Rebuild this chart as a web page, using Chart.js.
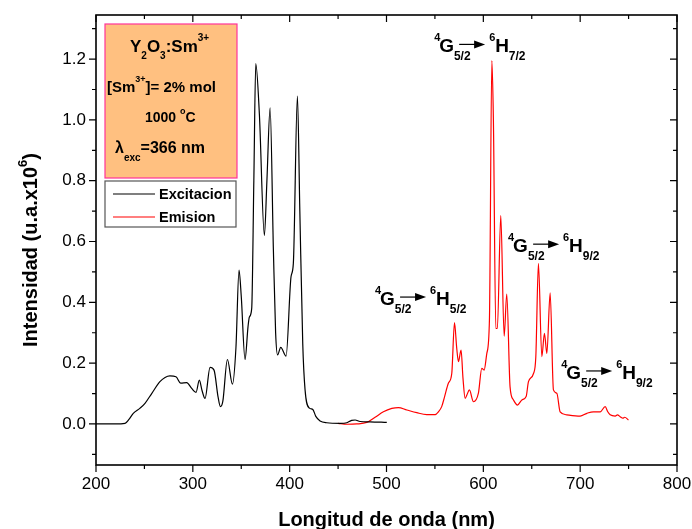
<!DOCTYPE html>
<html>
<head>
<meta charset="utf-8">
<script src="https://cdn.jsdelivr.net/npm/chart.js@4.4.1/dist/chart.umd.min.js"></script>
<style>
html, body { margin: 0; padding: 0; background: #fff; }
#wrap { width: 692px; height: 529px; }
</style>
</head>
<body>
<div id="wrap"><canvas id="espectro"></canvas></div>
<script>
const xTicks = [200, 300, 400, 500, 600, 700, 800];
const yTicks = [0.0, 0.2, 0.4, 0.6, 0.8, 1.0, 1.2];
const seriesNames = ["Excitacion", "Emision"];

// excitacion (lambda_em fija), nm / u.a.x10^6
const excWl = [200, 210, 220, 230, 234, 238.5, 245.5, 250.6, 257.5, 266, 271.3, 276.4, 282.6, 287.5, 293.7,
    298.8, 303.3, 306.7, 309.5, 312.6, 317.8, 321.9, 326, 328.5, 331, 335.7, 340.9, 344.5, 347.7, 350,
    353.9, 357, 358.4, 360.8, 363, 365, 368.7, 373.9, 376.5, 379.8, 383.2, 385.5, 387.5, 390.8, 396.3,
    401.4, 403.8, 408, 410.5, 413.5, 415.9, 420.4, 423.8, 427, 431.4, 438.3, 452, 459, 464, 467.6,
    472.7, 483, 500.3];
const excInt = [0, 0, 0, 0.002, 0.015, 0.035, 0.052, 0.068, 0.10, 0.139, 0.153, 0.158, 0.155, 0.134, 0.136,
    0.117, 0.104, 0.144, 0.11, 0.084, 0.186, 0.177, 0.09, 0.057, 0.075, 0.212, 0.131, 0.25, 0.506, 0.42,
    0.212, 0.32, 0.352, 0.38, 0.8, 1.185, 1.02, 0.62, 0.8, 1.04, 0.571, 0.3, 0.227, 0.252, 0.223,
    0.484, 0.528, 1.078, 0.7, 0.265, 0.112, 0.052, 0.048, 0.025, 0.01, 0.004, 0.002, 0.004, 0.012, 0.013,
    0.008, 0.007, 0.005];

// emision (lambda_exc = 366 nm)
const emiWl = [450, 459, 469.3, 479.6, 488.2, 496.8, 505.5, 512.3, 521, 531.3, 541.6, 550.2, 553.6, 557, 560,
    563.9, 567.4, 570.2, 572.5, 574.3, 577, 579, 581.2, 583, 585.6, 589.8, 594.9, 598.4, 600.8, 603.6,
    606.3, 608.8, 610.4, 612.9, 614.5, 618, 621.5, 624.2, 627.6, 631.1, 635.2, 639.8, 644.2, 646.6, 651.8,
    654.2, 656.9, 660.4, 663.1, 665.6, 669, 672.4, 675.9, 679.3, 686.2, 700, 706.9, 713.7, 720.7, 725.8,
    728.5, 731, 736.2, 738.5, 741.3, 744.1, 746, 749.9];
const emiInt = [0.002, -0.001, 0, 0.005, 0.022, 0.040, 0.051, 0.054, 0.046, 0.037, 0.031, 0.031, 0.040, 0.057, 0.09,
    0.134, 0.166, 0.333, 0.25, 0.205, 0.243, 0.15, 0.084, 0.095, 0.112, 0.073, 0.101, 0.183, 0.177, 0.232,
    0.342, 1.195, 0.998, 0.314, 0.314, 0.686, 0.289, 0.427, 0.122, 0.079, 0.062, 0.079, 0.09, 0.139, 0.166,
    0.221, 0.528, 0.221, 0.298, 0.232, 0.431, 0.112, 0.101, 0.040, 0.030, 0.026, 0.035, 0.040, 0.040, 0.057,
    0.04, 0.030, 0.026, 0.03, 0.024, 0.019, 0.022, 0.013];

const FONT = '"Liberation Sans", Arial, sans-serif';

const toPoints = (xs, ys) => xs.map((v, i) => ({ x: v, y: ys[i] }));

// escribe trozos seguidos (texto, tamano, desplazamiento vertical)
const runs = (ctx, parts, x, y) => {
    parts.forEach(([s, size, dy]) => {
        ctx.font = `bold ${size}px ${FONT}`;
        ctx.fillText(s, x, y + (dy || 0));
        x += ctx.measureText(s).width;
    });
    return x;
};

const arrow = (ctx, x1, x2, y) => {
    ctx.beginPath();
    ctx.moveTo(x1, y);
    ctx.lineTo(x2 - 9, y);
    ctx.lineWidth = 1.2;
    ctx.stroke();
    ctx.beginPath();
    ctx.moveTo(x2, y);
    ctx.lineTo(x2 - 11, y - 4);
    ctx.lineTo(x2 - 11, y + 4);
    ctx.closePath();
    ctx.fill();
};

const transicion = (ctx, x0, yb, sub1, sub2) => {
    runs(ctx, [["4", 11, -11]], x0, yb);
    runs(ctx, [["G", 19, 0], [sub1, 12, 8]], x0 + 5, yb);
    arrow(ctx, x0 + 25, x0 + 51, yb - 8);
    runs(ctx, [["6", 11, -11]], x0 + 55, yb);
    runs(ctx, [["H", 19, 0], [sub2, 12, 8]], x0 + 61, yb);
};

const decor = {
    id: "decor",
    afterDraw(chart) {
        const { ctx, chartArea: a, scales: { x, y } } = chart;
        ctx.save();
        ctx.fillStyle = "#000";
        ctx.strokeStyle = "#000";

        // marco
        ctx.lineWidth = 1.6;
        ctx.strokeRect(a.left, a.top, a.right - a.left, a.bottom - a.top);

        // marcas de los ejes
        ctx.lineWidth = 1.2;
        const xMarks = [];
        xTicks.forEach((v, i) => {
            xMarks.push([v, 7]);
            if (i < xTicks.length - 1) xMarks.push([(v + xTicks[i + 1]) / 2, 4]);
        });
        xMarks.forEach(([v, len]) => {
            const px = x.getPixelForValue(v);
            ctx.beginPath();
            ctx.moveTo(px, a.bottom); ctx.lineTo(px, a.bottom + len);
            ctx.moveTo(px, a.top); ctx.lineTo(px, a.top + len);
            ctx.stroke();
        });
        const yMarks = [[yTicks[0] - 0.1, 4]];
        yTicks.forEach(v => { yMarks.push([v, 7]); yMarks.push([v + 0.1, 4]); });
        yMarks.forEach(([v, len]) => {
            if (v < y.min || v > y.max) return;
            const py = y.getPixelForValue(v);
            ctx.beginPath();
            ctx.moveTo(a.left - len, py); ctx.lineTo(a.left, py);
            ctx.moveTo(a.right - len, py); ctx.lineTo(a.right, py);
            ctx.stroke();
        });

        // titulos de los ejes
        ctx.textBaseline = "alphabetic";
        ctx.font = `bold 20px ${FONT}`;
        const xt = "Longitud de onda (nm)";
        const xw = ctx.measureText(xt).width;
        ctx.fillText(xt, (a.left + a.right) / 2 - xw / 2, 526);

        ctx.save();
        ctx.translate(37, (a.top + a.bottom) / 2 + 10);
        ctx.rotate(-Math.PI / 2);
        ctx.font = `bold 20px ${FONT}`;
        const p1 = "Intensidad (u.a.x10";
        let w = ctx.measureText(p1).width + ctx.measureText(")").width;
        ctx.font = `bold 13px ${FONT}`;
        w += ctx.measureText("6").width;
        runs(ctx, [[p1, 20, 0], ["6", 13, -10], [")", 20, 0]], -w / 2, 0);
        ctx.restore();

        // cuadro de la muestra
        const bx = a.left + 9, by = a.top + 9;
        ctx.fillStyle = "#ffc080";
        ctx.fillRect(bx, by, 132, 154);
        ctx.strokeStyle = "#ff3399";
        ctx.lineWidth = 1.2;
        ctx.strokeRect(bx, by, 132, 154);
        ctx.fillStyle = "#000";
        runs(ctx, [["Y", 17, 0], ["2", 10, 7], ["O", 17, 0], ["3", 10, 7], [":Sm", 17, 0], ["3+", 10, -11]], bx + 25, by + 28);
        runs(ctx, [["[Sm", 15, 0], ["3+", 9, -10], ["]= 2% mol", 15, 0]], bx + 2, by + 68);
        runs(ctx, [["1000 ", 14, 0], ["o", 9, -8], ["C", 14, 0]], bx + 40, by + 98);
        runs(ctx, [["λ", 16, 0], ["exc", 10, 8], ["=366 nm", 16, 0]], bx + 10, by + 129);

        // leyenda
        const lx = a.left + 9, ly = a.top + 166;
        ctx.fillStyle = "#fff";
        ctx.fillRect(lx, ly, 131, 46);
        ctx.strokeStyle = "#555";
        ctx.lineWidth = 1.2;
        ctx.strokeRect(lx, ly, 131, 46);
        chart.data.datasets.forEach((ds, i) => {
            const yy = ly + 13 + i * 23;
            ctx.strokeStyle = ds.borderColor;
            ctx.lineWidth = 1.2;
            ctx.beginPath();
            ctx.moveTo(lx + 8, yy); ctx.lineTo(lx + 50, yy);
            ctx.stroke();
            ctx.fillStyle = "#000";
            runs(ctx, [[ds.label, 14.5, 0]], lx + 54, yy + 5);
        });

        // transiciones del Sm3+
        ctx.fillStyle = "#000";
        ctx.strokeStyle = "#000";
        const at = (wl, val) => [x.getPixelForValue(wl), y.getPixelForValue(val)];
        let p = at(549.2, 1.222); transicion(ctx, p[0], p[1], "5/2", "7/2");
        p = at(488.2, 0.391); transicion(ctx, p[0], p[1], "5/2", "5/2");
        p = at(625.6, 0.565); transicion(ctx, p[0], p[1], "5/2", "9/2");
        p = at(680.4, 0.148); transicion(ctx, p[0], p[1], "5/2", "9/2");

        ctx.restore();
    }
};

new Chart(document.getElementById("espectro"), {
    type: "line",
    data: {
        datasets: [
            {
                label: seriesNames[0],
                data: toPoints(excWl, excInt),
                borderColor: "#000000",
                borderWidth: 1.2,
                pointRadius: 0,
                cubicInterpolationMode: "monotone"
            },
            {
                label: seriesNames[1],
                data: toPoints(emiWl, emiInt),
                borderColor: "#ff0000",
                borderWidth: 1.2,
                pointRadius: 0,
                cubicInterpolationMode: "monotone"
            }
        ]
    },
    options: {
        responsive: true,
        maintainAspectRatio: false,
        animation: false,
        layout: { padding: { top: 15, right: 15, left: 0, bottom: 0 } },
        plugins: { legend: { display: false }, tooltip: { enabled: false } },
        scales: {
            x: {
                type: "linear",
                min: 200,
                max: 800,
                afterBuildTicks: s => { s.ticks = xTicks.map(v => ({ value: v })); },
                afterFit: s => { s.height = 64; s.paddingLeft = 0; s.paddingRight = 0; },
                grid: { display: false, drawTicks: false },
                border: { display: false },
                ticks: {
                    padding: 9,
                    color: "#000",
                    maxRotation: 0,
                    font: { family: FONT, size: 17 },
                    callback: v => String(v)
                }
            },
            y: {
                min: -0.135,
                max: 1.345,
                afterBuildTicks: s => { s.ticks = yTicks.map(v => ({ value: v })); },
                afterFit: s => { s.width = 96; s.paddingTop = 0; s.paddingBottom = 0; },
                grid: { display: false, drawTicks: false },
                border: { display: false },
                ticks: {
                    padding: 10,
                    color: "#000",
                    font: { family: FONT, size: 17 },
                    callback: v => Number(v).toFixed(1)
                }
            }
        }
    },
    plugins: [decor]
});
</script>
</body>
</html>
